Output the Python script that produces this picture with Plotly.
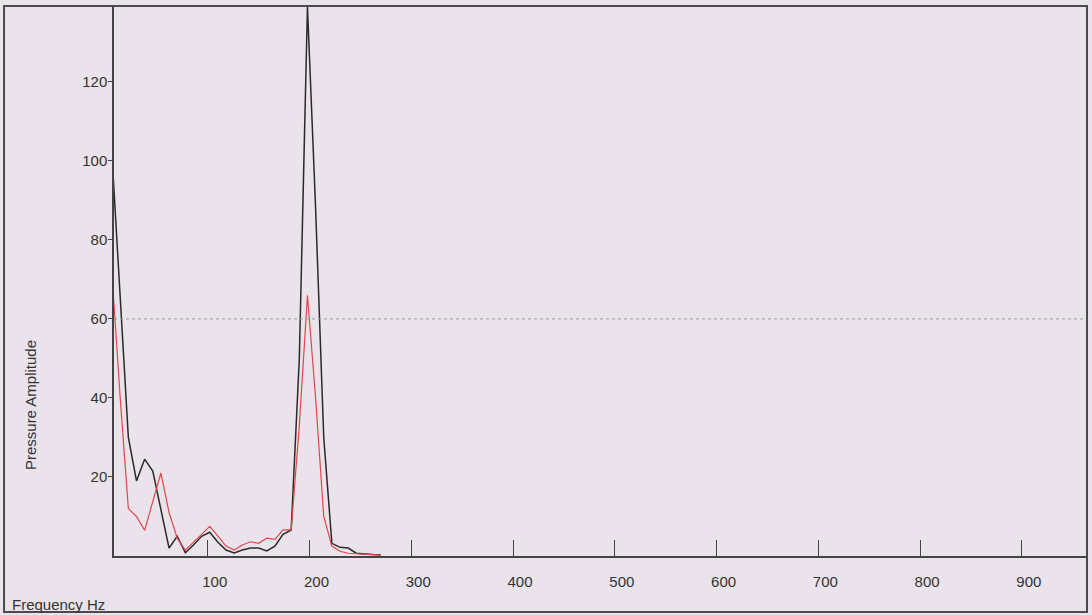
import plotly.graph_objects as go

# Spectrum bins (Hz)
freq_hz = [6, 14, 22, 30, 38, 46, 54, 62, 70, 78, 86, 94, 102, 110, 118, 126, 134,
           142, 150, 158, 166, 174, 182, 190, 198, 206, 214, 222, 230, 238, 246,
           254, 262, 270]

# Pressure amplitude, black trace
amp_black = [101, 66, 30, 19, 24.5, 21.5, 12, 2, 5, 0.8, 2.8, 5, 6, 3.5, 1.5, 0.8,
             1.5, 2, 2, 1.3, 2.5, 5.5, 6.6, 50, 139, 88, 30, 3.2, 2.2, 2, 0.7,
             0.5, 0.4, 0.3]

# Pressure amplitude, red trace
amp_red = [71, 40, 12, 10, 6.5, 14, 21, 11, 4.5, 1.5, 3.5, 5.5, 7.5, 5, 2.5, 1.5,
           2.8, 3.6, 3.2, 4.5, 4.2, 6.6, 6.6, 33, 66, 40, 10, 2.5, 1.2, 0.7, 0.6,
           0.4, 0.3, 0.2]

x_ticks = [100, 200, 300, 400, 500, 600, 700, 800, 900]
y_ticks = [20, 40, 60, 80, 100, 120]
reference_level = 60

BG = "#EBE3EB"
INK = "#333333"
FONT = "Liberation Sans"

fig = go.Figure()
fig.add_trace(go.Scatter(x=freq_hz, y=amp_black, mode="lines",
                         line=dict(color="#2a2a2a", width=1.5), showlegend=False))
fig.add_trace(go.Scatter(x=freq_hz, y=amp_red, mode="lines",
                         line=dict(color="#e0474c", width=1.2), showlegend=False))

# dotted level line
fig.add_hline(y=reference_level, line=dict(color="#999999", width=1, dash="dot"))

# outer frame
fig.add_shape(type="rect", xref="paper", yref="paper",
              x0=-0.113, x1=1.0, y0=-0.1018, y1=1.0,
              line=dict(color="#4a4a4a", width=2), layer="above")

fig.add_annotation(text="Pressure Amplitude", xref="paper", yref="paper",
                   x=-0.0863, y=0.2745, textangle=-90, showarrow=False,
                   xanchor="center", yanchor="middle",
                   font=dict(family=FONT, size=15, color=INK))
fig.add_annotation(text="Frequency Hz", xref="paper", yref="paper",
                   x=-0.1069, y=-0.0873, showarrow=False,
                   xanchor="left", yanchor="middle",
                   font=dict(family=FONT, size=15, color=INK))

fig.update_layout(
    width=1092, height=615,
    margin=dict(l=114, r=5, t=6, b=59),
    paper_bgcolor=BG, plot_bgcolor=BG,
    font=dict(family=FONT, size=15, color=INK),
    xaxis=dict(range=[7.9, 964], tickvals=x_ticks, ticks="inside", ticklen=16,
               tickcolor="#444444", tickwidth=1, showline=True, linecolor="#444444",
               linewidth=1.5, showgrid=False, zeroline=False,
               ticklabelstandoff=11, ticklabelshift=7,
               tickfont=dict(family=FONT, size=15, color=INK)),
    yaxis=dict(range=[0, 139.2], tickvals=y_ticks, ticks="outside", ticklen=4,
               tickcolor="#444444", tickwidth=1, showline=True, linecolor="#444444",
               linewidth=1.5, showgrid=False, zeroline=False,
               ticklabelstandoff=-2,
               tickfont=dict(family=FONT, size=15, color=INK)),
)

fig.write_html("out.html")
